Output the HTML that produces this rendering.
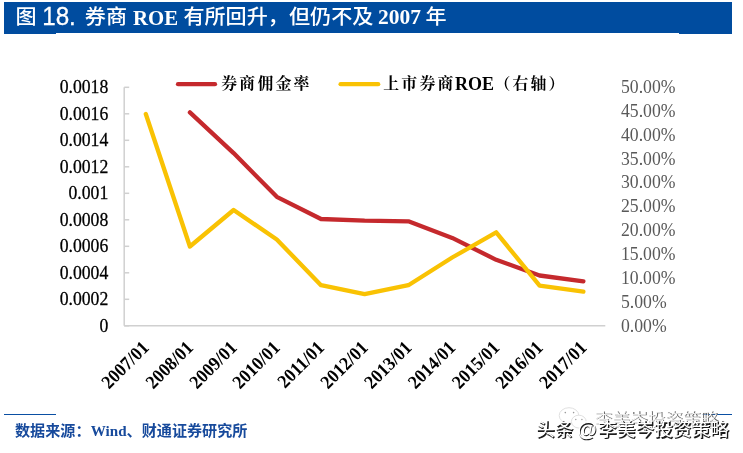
<!DOCTYPE html>
<html lang="zh"><head><meta charset="utf-8"><title>图 18</title>
<style>
html,body{margin:0;padding:0;background:#fff;}
body{width:743px;height:453px;overflow:hidden;}
svg{display:block;}
.t{font-family:"Liberation Sans","Noto Sans CJK SC",sans-serif;font-size:20.4px;fill:#fff;font-weight:500;}
.tn{font-size:26.6px;stroke:#fff;stroke-width:0.3px;}
.la text{font-family:"Liberation Serif",serif;font-size:17.7px;fill:#000;stroke:#000;stroke-width:0.25px;}
.ra text{font-family:"Liberation Serif",serif;font-size:17.7px;fill:#595959;}
.xa text{font-family:"Liberation Serif",serif;font-size:17.7px;font-weight:bold;fill:#000;}
.lg{font-family:"Liberation Serif","Noto Serif CJK SC",serif;font-weight:700;font-size:15.9px;letter-spacing:2.15px;fill:#000;}
.src{font-family:"Liberation Sans","Noto Sans CJK SC",sans-serif;font-weight:bold;font-size:15.1px;fill:#174a9c;}
.wm{font-family:"Liberation Sans","Noto Sans CJK SC",sans-serif;}
.tr{font-family:"Liberation Serif","Noto Serif CJK SC",serif;font-weight:bold;}
</style></head><body>
<svg width="743" height="453" viewBox="0 0 743 453">
<rect width="743" height="453" fill="#fff"/>
<rect x="4" y="2" width="728" height="31" fill="#004c9f"/>
<rect x="4" y="32" width="52" height="2" fill="#004c9f"/>
<rect x="679" y="32" width="53" height="2" fill="#004c9f"/>
<text class="t" transform="translate(15.4,24.3) scale(1.035,1)">图</text>
<text class="t tn" transform="translate(42.2,24.7) scale(0.91,1)">18.</text>
<text class="t" transform="translate(84.8,24.3) scale(1.035,1)">券商</text>
<text class="t tr" style="font-size:20.8px" x="133" y="24.7">ROE</text>
<text class="t" transform="translate(183.4,24.3) scale(1.035,1)">有所回升，但仍不及</text>
<text class="t tr" style="font-size:20.3px" transform="translate(378,24.4) scale(1.06,1)">2007</text>
<text class="t" transform="translate(425.6,24.3) scale(1.035,1)">年</text>
<g stroke="#d0d0d0" stroke-width="1.5" fill="none">
<line x1="124.2" x2="124.2" y1="87.3" y2="325.8"/>
<line x1="124.2" x2="605.3" y1="325.8" y2="325.8"/>
<line x1="124.2" x2="129.2" y1="87.30" y2="87.30"/><line x1="124.2" x2="129.2" y1="113.80" y2="113.80"/><line x1="124.2" x2="129.2" y1="140.30" y2="140.30"/><line x1="124.2" x2="129.2" y1="166.80" y2="166.80"/><line x1="124.2" x2="129.2" y1="193.30" y2="193.30"/><line x1="124.2" x2="129.2" y1="219.80" y2="219.80"/><line x1="124.2" x2="129.2" y1="246.30" y2="246.30"/><line x1="124.2" x2="129.2" y1="272.80" y2="272.80"/><line x1="124.2" x2="129.2" y1="299.30" y2="299.30"/><line x1="124.2" x2="129.2" y1="325.80" y2="325.80"/>
</g>
<g class="la"><text transform="translate(108.3,93.20) scale(1,1.01)" text-anchor="end">0.0018</text><text transform="translate(108.3,119.70) scale(1,1.01)" text-anchor="end">0.0016</text><text transform="translate(108.3,146.20) scale(1,1.01)" text-anchor="end">0.0014</text><text transform="translate(108.3,172.70) scale(1,1.01)" text-anchor="end">0.0012</text><text transform="translate(108.3,199.20) scale(1,1.01)" text-anchor="end">0.001</text><text transform="translate(108.3,225.70) scale(1,1.01)" text-anchor="end">0.0008</text><text transform="translate(108.3,252.20) scale(1,1.01)" text-anchor="end">0.0006</text><text transform="translate(108.3,278.70) scale(1,1.01)" text-anchor="end">0.0004</text><text transform="translate(108.3,305.20) scale(1,1.01)" text-anchor="end">0.0002</text><text transform="translate(108.3,331.70) scale(1,1.01)" text-anchor="end">0</text></g>
<g class="ra"><text transform="translate(621,93.00) scale(1,1.04)">50.00%</text><text transform="translate(621,116.85) scale(1,1.04)">45.00%</text><text transform="translate(621,140.70) scale(1,1.04)">40.00%</text><text transform="translate(621,164.55) scale(1,1.04)">35.00%</text><text transform="translate(621,188.40) scale(1,1.04)">30.00%</text><text transform="translate(621,212.25) scale(1,1.04)">25.00%</text><text transform="translate(621,236.10) scale(1,1.04)">20.00%</text><text transform="translate(621,259.95) scale(1,1.04)">15.00%</text><text transform="translate(621,283.80) scale(1,1.04)">10.00%</text><text transform="translate(621,307.65) scale(1,1.04)">5.00%</text><text transform="translate(621,331.50) scale(1,1.04)">0.00%</text></g>
<g class="xa"><text transform="translate(150.1,348.8) rotate(-45) scale(1,1.07)" text-anchor="end">2007/01</text><text transform="translate(194.2,348.8) rotate(-45) scale(1,1.07)" text-anchor="end">2008/01</text><text transform="translate(237.9,348.8) rotate(-45) scale(1,1.07)" text-anchor="end">2009/01</text><text transform="translate(281.1,348.8) rotate(-45) scale(1,1.07)" text-anchor="end">2010/01</text><text transform="translate(325.3,348.8) rotate(-45) scale(1,1.07)" text-anchor="end">2011/01</text><text transform="translate(368.9,348.8) rotate(-45) scale(1,1.07)" text-anchor="end">2012/01</text><text transform="translate(412.7,348.8) rotate(-45) scale(1,1.07)" text-anchor="end">2013/01</text><text transform="translate(456.5,348.8) rotate(-45) scale(1,1.07)" text-anchor="end">2014/01</text><text transform="translate(500.5,348.8) rotate(-45) scale(1,1.07)" text-anchor="end">2015/01</text><text transform="translate(543.9,348.8) rotate(-45) scale(1,1.07)" text-anchor="end">2016/01</text><text transform="translate(587.7,348.8) rotate(-45) scale(1,1.07)" text-anchor="end">2017/01</text></g>
<polyline points="189.9,112.4 233.6,153.1 276.8,196.8 321.0,219.0 364.6,220.7 408.4,221.3 452.2,237.9 496.2,259.8 539.6,275.5 583.4,281.3" fill="none" stroke="#c5292d" stroke-width="4.3" stroke-linecap="round" stroke-linejoin="round"/>
<polyline points="145.8,114.0 189.9,246.5 233.6,210.0 276.8,239.5 321.0,285.2 364.6,294.2 408.4,285.2 452.2,257.5 496.2,232.3 539.6,285.6 583.4,291.7" fill="none" stroke="#f9c203" stroke-width="4.3" stroke-linecap="round" stroke-linejoin="round"/>
<line x1="178" x2="215" y1="84.2" y2="84.2" stroke="#c5292d" stroke-width="4.3" stroke-linecap="round"/>
<text class="lg" x="221.3" y="89.3">券商佣金率</text>
<line x1="340.6" x2="378.2" y1="84.2" y2="84.2" stroke="#f9c203" stroke-width="4.3" stroke-linecap="round"/>
<text class="lg" x="383.3" y="89.3">上市券商</text><text class="lg" style="font-size:18px;letter-spacing:0;font-weight:bold" x="455" y="89.5">ROE</text><text class="lg" x="494.5" y="89.3">（右轴）</text>
<rect x="4" y="414" width="52" height="1" fill="#0a4fa3"/>
<rect x="702" y="414" width="30" height="1" fill="#0a4fa3"/>
<text class="src" x="15" y="436.2">数据来源：</text>
<text class="src tr" transform="translate(90.8,436.2) scale(1.0,1)">Wind</text>
<text class="src" x="126.6" y="436.2">、财通证券研究所</text>
<g fill="#fff" stroke="#dddddd" stroke-width="0.9">
<ellipse cx="569" cy="415.5" rx="9.8" ry="7.8"/>
<ellipse cx="578.8" cy="421.6" rx="7.4" ry="6.4"/>
</g>
<g fill="#9a9a9a"><circle cx="565.3" cy="412.6" r="0.8"/><circle cx="573.6" cy="412.6" r="0.8"/><circle cx="575.8" cy="419.5" r="0.7"/><circle cx="581.9" cy="419.5" r="0.7"/></g>
<text class="wm" x="595.5" y="427.4" font-size="17.7" font-weight="400" fill="#6a6a6a">李美岑投资策略</text>
<text class="wm" x="594.7" y="426.6" font-size="17.7" font-weight="300" fill="#fff">李美岑投资策略</text>
<g class="wm" fill="#1c1c1c" font-weight="700" font-size="18.7" transform="translate(0.9,0.9)">
<text x="536.2" y="436.6">头条</text><text x="577.2" y="436.4" font-size="20">@</text><text x="598.2" y="436.6">李美岑投资策略</text></g>
<g class="wm" fill="#fff" font-weight="400" font-size="18.7" transform="translate(-0.2,-0.3)">
<text x="536.2" y="436.6">头条</text><text x="577.2" y="436.4" font-size="20">@</text><text x="598.2" y="436.6">李美岑投资策略</text></g>
</svg>
</body></html>
